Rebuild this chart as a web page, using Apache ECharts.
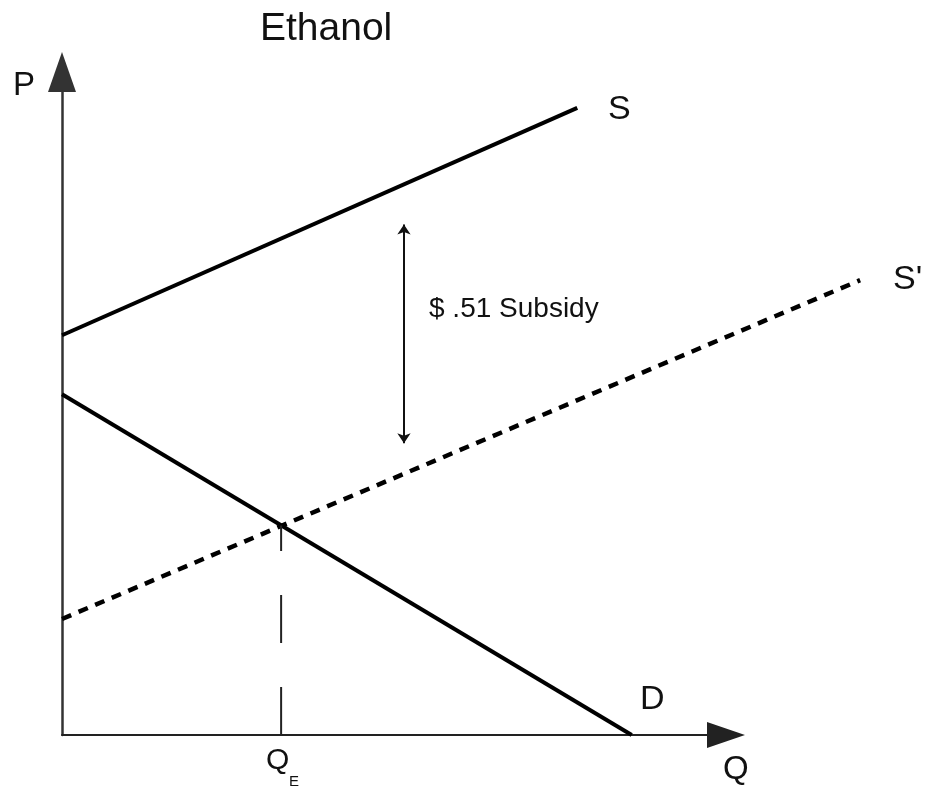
<!DOCTYPE html>
<html>
<head>
<meta charset="utf-8">
<script src="https://cdn.jsdelivr.net/npm/echarts@6/dist/echarts.min.js"></script>
<style>
  html, body { margin: 0; padding: 0; background: #fff; }
  #chart { width: 931px; height: 794px; }
</style>
</head>
<body>
<div id="chart"></div>
<script>
// line end points (Q on x, P on y, axes drawn 0..100)
const supply = [[0, 60.3], [77.6, 94.6]];
const demand = [[0, 51.4], [85.8, 0]];
const supplyShifted = [[0, 17.5], [120.2, 68.6]];
const qeDrop = [[33.0, 0], [33.0, 31.6]];
const subsidyGap = [[51.5, 44.0], [51.5, 77.0]];

const FONT = '"Liberation Sans", Arial, sans-serif';
const Q_MAX = 100;      // visible axis length
const Q_PLOT_MAX = 125; // S' runs past the Q arrow

const chart = echarts.init(document.getElementById('chart'));

const txt = (text, x, y, size) => ({
  type: 'text',
  x: x,
  y: y,
  style: {
    text: text,
    font: size + 'px ' + FONT,
    fill: '#111',
    textAlign: 'left',
    textVerticalAlign: 'middle'
  }
});

const hidden = { show: false };
const plotW = 726 - 62; // px for Q_MAX units

const option = {
  animation: false,
  backgroundColor: '#fff',
  grid: [
    { left: 62, top: 72, right: 205, bottom: 59 },
    // same scale, wider, so S' is not cut at the arrow
    { left: 62, top: 72, width: plotW * Q_PLOT_MAX / Q_MAX, bottom: 59 }
  ],
  xAxis: [
    {
      type: 'value', gridIndex: 0, min: 0, max: Q_MAX,
      axisLine: {
        lineStyle: { color: '#222', width: 2 },
        symbol: ['none', 'triangle'],
        symbolSize: [26, 38]
      },
      axisTick: hidden, axisLabel: hidden, splitLine: hidden
    },
    {
      type: 'value', gridIndex: 1, min: 0, max: Q_PLOT_MAX,
      axisLine: hidden, axisTick: hidden, axisLabel: hidden, splitLine: hidden
    }
  ],
  yAxis: [
    {
      type: 'value', gridIndex: 0, min: 0, max: 100,
      axisLine: {
        show: true,
        lineStyle: { color: '#333', width: 2.5 },
        symbol: ['none', 'triangle'],
        symbolSize: [28, 40]
      },
      axisTick: hidden, axisLabel: hidden, splitLine: hidden
    },
    {
      type: 'value', gridIndex: 1, min: 0, max: 100,
      axisLine: hidden, axisTick: hidden, axisLabel: hidden, splitLine: hidden
    }
  ],
  series: [
    {
      name: 'S', type: 'line', xAxisIndex: 1, yAxisIndex: 1,
      data: supply, symbol: 'none',
      lineStyle: { color: '#000', width: 4 }
    },
    {
      name: 'D', type: 'line', xAxisIndex: 1, yAxisIndex: 1,
      data: demand, symbol: 'none',
      lineStyle: { color: '#000', width: 4 }
    },
    {
      name: "S'", type: 'line', xAxisIndex: 1, yAxisIndex: 1,
      data: supplyShifted, symbol: 'none',
      lineStyle: { color: '#000', width: 4.5, type: [10, 8] }
    },
    {
      name: 'QE', type: 'line', xAxisIndex: 1, yAxisIndex: 1,
      data: qeDrop, symbol: 'none',
      lineStyle: { color: '#222', width: 2, type: [48, 44] }
    },
    {
      name: 'subsidy', type: 'line', xAxisIndex: 1, yAxisIndex: 1,
      data: [],
      markLine: {
        silent: true,
        symbol: ['arrow', 'arrow'],
        symbolSize: 10,
        label: hidden,
        lineStyle: { color: '#111', width: 2, type: 'solid' },
        data: [[{ coord: subsidyGap[0] }, { coord: subsidyGap[1] }]]
      }
    }
  ],
  graphic: [
    txt('Ethanol', 260, 29, 39),
    txt('P', 13, 86, 33),
    txt('S', 608, 110, 34),
    txt("S'", 893, 280, 34),
    txt('D', 640, 700, 34),
    txt('Q', 723, 770, 33),
    txt('Q', 266, 761, 30),
    txt('E', 289, 782, 15),
    txt('$ .51 Subsidy', 429, 309, 28)
  ]
};

chart.setOption(option);
</script>
</body>
</html>
